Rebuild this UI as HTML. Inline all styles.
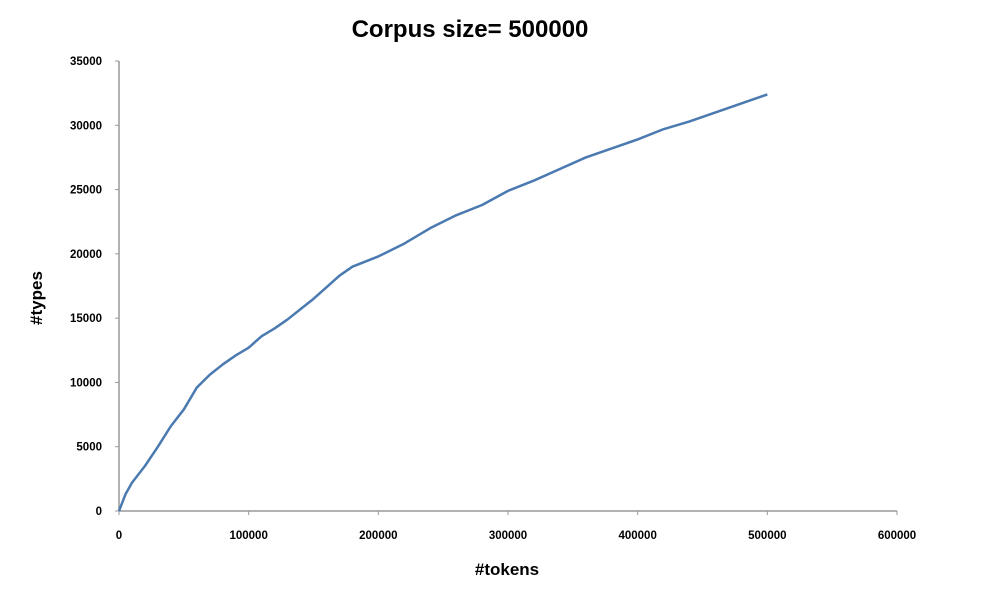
<!DOCTYPE html>
<html><head><meta charset="utf-8"><style>
body{margin:0;background:#fff;}
svg text{font-family:"Liberation Sans",sans-serif;font-weight:bold;fill:#000;}
</style></head><body>
<svg width="1000" height="600">
<text x="470" y="37" font-size="24" text-anchor="middle">Corpus size= 500000</text>
<g id="axes"></g>
<text x="507" y="575" font-size="17" text-anchor="middle">#tokens</text>
<text transform="translate(42,298) rotate(-90)" font-size="17" text-anchor="middle">#types</text>
</svg>
<script>
const xTicks=[0,100000,200000,300000,400000,500000,600000];
const yTicks=[0,5000,10000,15000,20000,25000,30000,35000];
const tokens=[0,5000,10000,20000,30000,40000,50000,60000,70000,80000,90000,100000,110000,120000,130000,140000,150000,160000,170000,180000,200000,220000,240000,260000,280000,300000,320000,340000,360000,380000,400000,420000,440000,460000,480000,500000];
const types=[0,1300,2200,3500,5000,6600,7900,9600,10600,11400,12100,12700,13600,14200,14900,15700,16500,17400,18300,19000,19800,20800,22000,23000,23800,24900,25700,26600,27500,28200,28900,29700,30300,31000,31700,32400];
const X=v=>119+v/600000*778, Y=v=>511-v/35000*450;
const g=document.getElementById('axes'),NS='http://www.w3.org/2000/svg';
function mk(t,a){const e=document.createElementNS(NS,t);for(const k in a)e.setAttribute(k,a[k]);g.appendChild(e);return e;}
let ax=mk('line',{x1:119,y1:511,x2:897,y2:511,stroke:'#999','stroke-width':1.5});


let ay=mk('line',{x1:119,y1:61,x2:119,y2:511,stroke:'#999','stroke-width':1.5});


xTicks.forEach(v=>{mk('line',{x1:X(v),y1:511,x2:X(v),y2:515,stroke:'#999'});
 const t=mk('text',{x:X(v),y:539,'font-size':11.5,'text-anchor':'middle'});t.textContent=v;
 
 });
yTicks.forEach(v=>{mk('line',{x1:115,y1:Y(v),x2:119,y2:Y(v),stroke:'#999'});
 const t=mk('text',{x:102,y:Y(v)+4,'font-size':11.5,'text-anchor':'end'});t.textContent=v;
 
 });
const p=mk('polyline',{points:tokens.map((v,i)=>X(v)+','+Y(types[i])).join(' '),fill:'none',stroke:'#4a7ab0','stroke-width':2.5,'stroke-linejoin':'round'});


</script>
</body></html>
